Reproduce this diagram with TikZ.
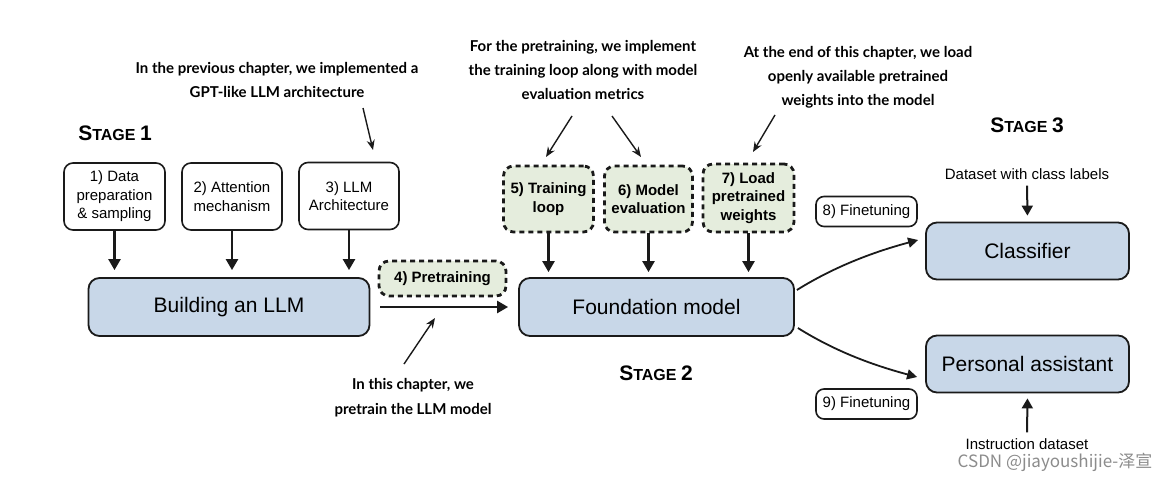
\documentclass[tikz,border=0pt]{standalone}
\usepackage{fontspec}
\setmainfont{Liberation Sans}
\newfontfamily\annfont{Lato}
\newfontfamily\cjkfont{Noto Sans CJK SC}
\usetikzlibrary{arrows.meta}
\definecolor{boxblue}{HTML}{C8D7E8}
\definecolor{boxgreen}{HTML}{E5EDDD}
\definecolor{edge}{HTML}{1A1A1A}
\newcommand\stagetxt[1]{{\bfseries\fontsize{21}{21}\selectfont S\fontsize{16}{16}\selectfont TAGE\ \fontsize{21}{21}\selectfont #1}}
\tikzset{
  plainbox/.style={draw=edge, line width=1.6pt, rounded corners=9pt, fill=white, align=center, font=\fontsize{15}{18.5}\selectfont, inner sep=0pt},
  bigbox/.style={draw=edge, line width=1.8pt, rounded corners=11pt, fill=boxblue, font=\fontsize{21}{24}\selectfont, inner sep=0pt},
  greenbox/.style={draw=edge, line width=2.8pt, dash pattern=on 5pt off 4pt, rounded corners=10pt, fill=boxgreen, align=center, font=\bfseries\fontsize{15}{18.5}\selectfont, inner sep=0pt},
  note/.style={align=center, font=\annfont\bfseries\fontsize{15}{24}\selectfont, inner sep=0pt},
  plainlabel/.style={font=\fontsize{15}{18}\selectfont, inner sep=0pt},
  flow/.style={draw=edge, line width=2.4pt, -{Triangle[length=11pt,width=12pt]}},
  pointer/.style={draw=edge, line width=1.4pt, -{Stealth[length=10pt,width=8pt]}}
}
\begin{document}
\begin{tikzpicture}[x=1pt,y=-1pt]
\fill[white] (0,0) rectangle (1176,482);
\useasboundingbox (0,0) rectangle (1176,482);

% stage labels
\node (s1) at (115,133) {\stagetxt{1}};
\node (s2) at (656,373) {\stagetxt{2}};
\node (s3) at (1027,125) {\stagetxt{3}};

% stage 1 boxes
\node[plainbox, minimum width=101pt, minimum height=67pt] (b1) at (114.5,196.5) {1) Data\\preparation\\\& sampling};
\node[plainbox, minimum width=100pt, minimum height=67pt] (b2) at (232,196.5) {2) Attention\\mechanism};
\node[plainbox, minimum width=100pt, minimum height=67pt] (b3) at (349,196) {3) LLM\\Architecture};
\node[bigbox, minimum width=281pt, minimum height=58pt] (build) at (229,307) {Building an LLM};

% stage 2
\node[greenbox, minimum width=127pt, minimum height=35pt] (pre) at (442.5,278.5) {4) Pretraining};
\node[bigbox, minimum width=275pt, minimum height=58pt] (found) at (656.5,307) {Foundation model};
\node[greenbox, minimum width=90pt, minimum height=66pt] (b5) at (548.5,199) {5) Training\\loop};
\node[greenbox, minimum width=88pt, minimum height=66pt] (b6) at (648.5,199) {6) Model\\evaluation};
\node[greenbox, minimum width=91pt, minimum height=68pt] (b7) at (748.5,198) {7) Load\\pretrained\\weights};

% stage 3
\node[bigbox, minimum width=203pt, minimum height=57pt] (cls) at (1027.5,251) {Classifier};
\node[bigbox, minimum width=203pt, minimum height=57pt] (pa) at (1027.5,364) {Personal assistant};
\node[plainbox, rounded corners=8pt, minimum width=101pt, minimum height=30pt] (f8) at (866.5,211.5) {8) Finetuning};
\node[plainbox, rounded corners=8pt, minimum width=101pt, minimum height=30pt] (f9) at (866.5,404) {9) Finetuning};
\node[plainlabel] (dcl) at (1027,174) {Dataset with class labels};
\node[plainlabel] (ids) at (1027,444) {Instruction dataset};

% notes
\node[note] (n1) at (277,80) {In the previous chapter, we implemented a\\GPT-like LLM architecture};
\node[note] (n2) at (583,70) {For the pretraining, we implement\\the training loop along with model\\evaluation metrics};
\node[note] (n3) at (858,77) {At the end of this chapter, we load\\openly available pretrained\\weights into the model};
\node[note, font=\annfont\bfseries\fontsize{15}{25}\selectfont] (n4) at (413,397.5) {In this chapter, we\\pretrain the LLM model};

% flow arrows
\draw[flow, shorten >=7pt] (b1.south) -- (b1.south |- build.north);
\draw[flow, shorten >=7pt] (b2.south) -- (b2.south |- build.north);
\draw[flow, shorten >=7pt] (b3.south) -- (b3.south |- build.north);
\draw[flow, shorten >=5pt] (b5.south) -- (b5.south |- found.north);
\draw[flow, shorten >=5pt] (b6.south) -- (b6.south |- found.north);
\draw[flow, shorten >=5pt] (b7.south) -- (b7.south |- found.north);
\draw[flow, shorten <=10pt, shorten >=10pt] (build.east) -- (found.west);
\draw[flow, line width=2pt, -{Triangle[length=10pt,width=11pt]}, shorten <=6pt, shorten >=6pt] (dcl.south) -- (cls.north);
\draw[flow, line width=2pt, -{Triangle[length=10pt,width=11pt]}, shorten <=6pt, shorten >=5pt] (ids.north) -- (pa.south);
\draw[draw=edge, line width=1.8pt, -{Triangle[length=10pt,width=10pt]}]
  ([yshift=17pt,xshift=2pt]found.east) .. controls +(32:45pt) and +(195:45pt) .. ([yshift=11pt,xshift=-7pt]cls.west);
\draw[draw=edge, line width=1.8pt, -{Triangle[length=10pt,width=10pt]}]
  ([yshift=-21pt,xshift=3pt]found.east) .. controls +(-32:45pt) and +(165:45pt) .. ([yshift=-13pt,xshift=-8pt]pa.west);

% pointer arrows
\coordinate (p1a) at (363,108); \coordinate (p1b) at (373,150);
\coordinate (p2a) at (572,116); \coordinate (p2b) at (546,157);
\coordinate (p3a) at (612,116); \coordinate (p3b) at (641,157);
\coordinate (p4a) at (775,115); \coordinate (p4b) at (753,152);
\coordinate (p5a) at (404,364); \coordinate (p5b) at (435,318);
\draw[pointer] (p1a) -- (p1b);
\draw[pointer] (p2a) -- (p2b);
\draw[pointer] (p3a) -- (p3b);
\draw[pointer] (p4a) -- (p4b);
\draw[pointer] (p5a) -- (p5b);

% watermark
\node[font=\cjkfont\fontsize{17}{19}\selectfont, text=black!45, inner sep=0pt] (wm) at (1055,462) {CSDN @jiayoushijie-泽宣};
\end{tikzpicture}
\end{document}
